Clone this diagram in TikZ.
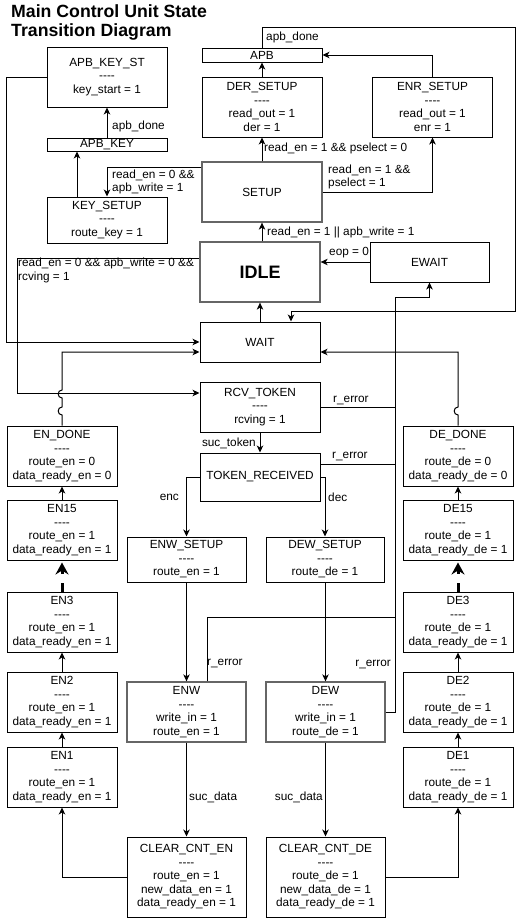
\documentclass[tikz,border=0pt]{standalone}
\usepackage{fontspec}
\setmainfont{Liberation Sans}
\usetikzlibrary{arrows.meta}

\newcommand{\boxfont}{\fontsize{11.8}{13.5}\selectfont}
\newcommand{\dashes}{\mbox{-}\mbox{-}\mbox{-}\mbox{-}}

\tikzset{
  st/.style={draw, rectangle, line width=1pt, inner sep=0pt, align=center,
    font=\boxfont, minimum width=120pt},
  stg/.style={st, draw=black!60, line width=1.3pt},
  lbl/.style={inner sep=0pt, font=\boxfont, align=left},
  arr/.style={line width=1pt, -{Stealth[length=7pt,width=6.5pt,inset=2pt]}},
  ln/.style={line width=1pt},
  fatarr/.style={line width=3pt, dash pattern=on 9pt off 9pt, shorten >=2pt,
    -{Stealth[length=12pt,width=13pt,inset=4pt]}}
}

\begin{document}
\begin{tikzpicture}[x=1pt, y=-1pt]
    \useasboundingbox (0,0) rectangle (526,918);

    \node (title) [lbl, anchor=north west, font=\fontsize{17.7}{19}\selectfont\bfseries]
        at (11,4) {Main Control Unit State\\Transition Diagram};

    % key branch
    \node (APB_KEY_ST) [st, minimum height=60pt] at (107,77) {APB\_KEY\_ST\\\dashes\\key\_start = 1};
    \node (APB_KEY) [st, minimum height=13pt] at (107,144.5) {APB\_KEY};
    \node (KEY_SETUP) [st, minimum height=46pt] at (107,220) {KEY\_SETUP\\\dashes\\route\_key = 1};

    % read branch
    \node (APB) [st, minimum height=14pt] at (262,55) {APB};
    \node (DER_SETUP) [st, minimum height=60pt] at (262,107) {DER\_SETUP\\\dashes\\read\_out = 1\\der = 1};
    \node (ENR_SETUP) [st, minimum height=60pt] at (432.5,107) {ENR\_SETUP\\\dashes\\read\_out = 1\\enr = 1};
    \node (SETUP) [stg, minimum height=60pt] at (262,192) {SETUP};

    % middle column
    \node (IDLE) [stg, minimum height=60pt, font=\fontsize{18}{20}\selectfont\bfseries] at (260,272) {IDLE};
    \node (EWAIT) [st, minimum width=119pt, minimum height=40pt] at (429.5,262) {EWAIT};
    \node (WAIT) [st, minimum height=40pt] at (260,342) {WAIT};
    \node (RCV_TOKEN) [st, minimum height=50pt] at (260,407) {RCV\_TOKEN\\\dashes\\rcving = 1};
    \node (TOKEN_RECEIVED) [st, minimum height=48pt] at (260,477) {TOKEN\_RECEIVED};

    \node (ENW_SETUP) [st, minimum width=119pt, minimum height=45pt] at (186.5,559.5) {ENW\_SETUP\\\dashes\\route\_en = 1};
    \node (DEW_SETUP) [st, minimum width=118pt, minimum height=45pt] at (325,559.5) {DEW\_SETUP\\\dashes\\route\_de = 1};
    \node (ENW) [stg, minimum width=119pt, minimum height=60pt] at (186.5,712) {ENW\\\dashes\\write\_in = 1\\route\_en = 1};
    \node (DEW) [stg, minimum width=119pt, minimum height=60pt] at (325.5,712) {DEW\\\dashes\\write\_in = 1\\route\_de = 1};
    \node (CLEAR_CNT_EN) [st, minimum width=119pt, minimum height=80pt] at (186.5,877)
        {CLEAR\_CNT\_EN\\\dashes\\route\_en = 1\\new\_data\_en = 1\\data\_ready\_en = 1};
    \node (CLEAR_CNT_DE) [st, minimum width=119pt, minimum height=80pt] at (325.5,877)
        {CLEAR\_CNT\_DE\\\dashes\\route\_de = 1\\new\_data\_de = 1\\data\_ready\_de = 1};

    % counter columns
    \foreach \s/\x/\p in {EN/62/en, DE/458/de} {
        \node (\s_DONE) [st, minimum width=110pt, minimum height=60pt] at (\x,456)
            {\s\_DONE\\\dashes\\route\_\p\ = 0\\data\_ready\_\p\ = 0};
        \foreach \k/\y in {15/530, 3/622, 2/702, 1/777}
            \node (\s\k) [st, minimum width=110pt, minimum height=60pt] at (\x,\y)
                {\s\k\\\dashes\\route\_\p\ = 1\\data\_ready\_\p\ = 1};
        \draw [arr] (\s1) -- (\s2);
        \draw [arr] (\s2) -- (\s3);
        \draw [fatarr] (\s3) -- (\s15);
        \draw [arr] (\s15) -- (\s_DONE);
    }

    \coordinate (apbturn) at (515,27);
    \coordinate (bustop) at (395,297);
    \coordinate (errjoin) at (395,617);
    \coordinate (idlebend) at (17,393);

    % key branch edges
    \draw [arr] ([xshift=-30pt]KEY_SETUP.north) -- ([xshift=-30pt]APB_KEY.south);
    \draw [arr] (APB_KEY) -- (APB_KEY_ST);
    \node (l_apbdone1) [lbl, anchor=west] at (112,126) {apb\_done};
    \draw [arr] ([yshift=-6pt]SETUP.north west) -| (KEY_SETUP.north);
    \node (l_keysetup) [lbl, anchor=west] at (112,182) {read\_en = 0 \&\&\\apb\_write = 1};
    \draw [arr] (APB_KEY_ST.west) -- ++(-40,0) |- (WAIT.west);

    % read branch edges
    \draw [arr] (SETUP) -- (DER_SETUP);
    \node (l_pselect0) [lbl, anchor=west] at (264,148) {read\_en = 1 \&\& pselect = 0};
    \draw [arr] (SETUP.east) -| (ENR_SETUP.south);
    \node (l_pselect1) [lbl, anchor=west] at (328,177) {read\_en = 1 \&\&\\pselect = 1};
    \draw [arr] (DER_SETUP) -- (APB);
    \draw [arr] (ENR_SETUP.north) |- (APB.east);
    \draw [arr] (APB.north) |- (apbturn) |- ([xshift=31pt,yshift=10pt]WAIT.north) -- ([xshift=31pt]WAIT.north);
    \node (l_apbdone2) [lbl, anchor=west] at (266,37) {apb\_done};

    % idle edges
    \draw [arr] (IDLE.north -| SETUP.south) -- (SETUP.south);
    \node (l_idlesetup) [lbl, anchor=west] at (267,232) {read\_en = 1 || apb\_write = 1};
    \draw [arr] (EWAIT.west) -- (IDLE.east |- EWAIT.west);
    \node (l_eop) [lbl, anchor=west] at (329,253) {eop = 0};
    \draw [arr] (WAIT) -- (IDLE);
    \draw [arr] ([yshift=14pt]IDLE.west) -| (idlebend) -- ([yshift=14pt]RCV_TOKEN.west);
    \node (l_rcving) [lbl, anchor=west] at (18,270.5) {read\_en = 0 \&\& apb\_write = 0 \&\&\\rcving = 1};

    % done states back to wait (with line hops)
    \draw [arr] (EN_DONE.north) -- (62,415) .. controls (57,415) and (57,407) .. (62,407)
        -- (62,398) .. controls (57,398) and (57,390) .. (62,390) |- ([yshift=-10pt]WAIT.west);
    \draw [arr] (DE_DONE.north) -- (458,415) .. controls (453,415) and (453,407) .. (458,407)
        |- ([yshift=-10pt]WAIT.east);

    % token
    \draw [arr] (RCV_TOKEN) -- (TOKEN_RECEIVED);
    \node (l_suctoken) [lbl, anchor=east] at (256,443) {suc\_token};
    \draw [arr] (TOKEN_RECEIVED.west) -| (ENW_SETUP.north);
    \node (l_enc) [lbl, anchor=east] at (179,497) {enc};
    \draw [arr] (TOKEN_RECEIVED.east) -| (DEW_SETUP.north);
    \node (l_dec) [lbl, anchor=west] at (328,497) {dec};

    % r_error bus to EWAIT
    \draw [arr] (DEW.east) -| (bustop) -| (EWAIT.south);
    \draw [ln] (RCV_TOKEN.east) -- ++(75,0);
    \node (l_err1) [lbl, anchor=west] at (333,400) {r\_error};
    \draw [ln] ([yshift=13pt]TOKEN_RECEIVED.east) -- ++(75,0);
    \node (l_err2) [lbl, anchor=west] at (332,456) {r\_error};
    \draw [ln] ([xshift=20.5pt]ENW.north) |- (errjoin);
    \node (l_err3) [lbl, anchor=west] at (207,663) {r\_error};
    \node (l_err4) [lbl, anchor=east] at (391,664) {r\_error};

    % write path
    \draw [arr] (ENW_SETUP) -- (ENW);
    \draw [arr] (DEW_SETUP.south -| DEW.north) -- (DEW.north);
    \draw [arr] (ENW) -- (CLEAR_CNT_EN);
    \node (l_sucdata1) [lbl, anchor=west] at (189,797) {suc\_data};
    \draw [arr] (DEW) -- (CLEAR_CNT_DE);
    \node (l_sucdata2) [lbl, anchor=east] at (323,797) {suc\_data};
    \draw [arr] (CLEAR_CNT_EN.west) -| (EN1.south);
    \draw [arr] (CLEAR_CNT_DE.east) -| (DE1.south);
\end{tikzpicture}
\end{document}
